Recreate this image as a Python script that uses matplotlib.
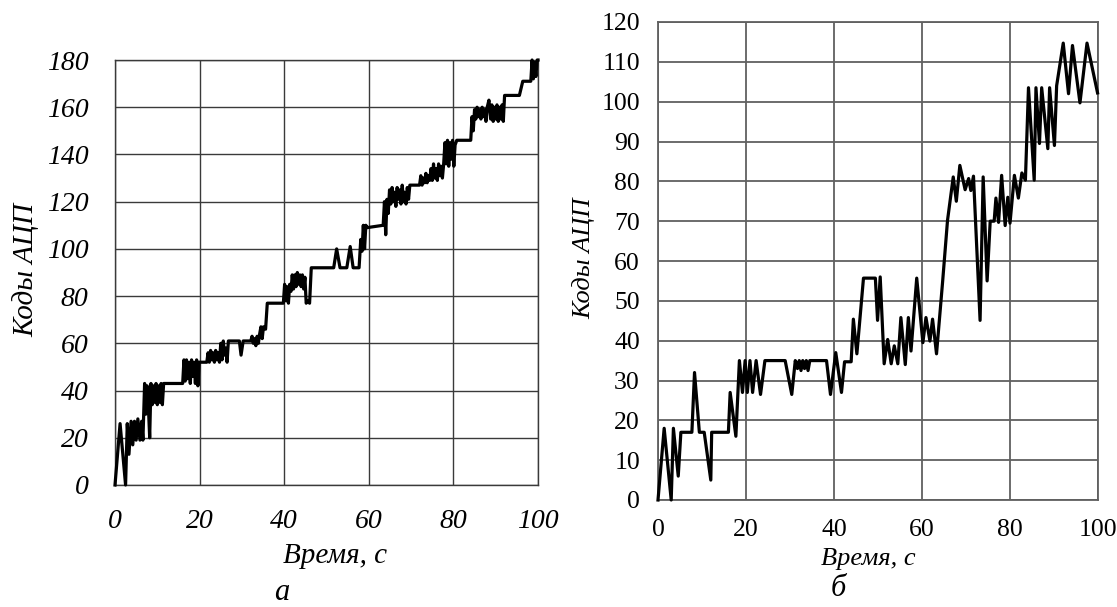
import matplotlib
matplotlib.use('Agg')
import matplotlib.pyplot as plt

plt.rcParams['font.family'] = ['Liberation Serif', 'DejaVu Serif']

# ---- данные: график а (медленный рост) ----
t_a = [0.0, 1.2, 2.5, 2.9, 3.3, 3.8, 4.2, 4.6, 5.0, 5.4, 5.9, 6.3, 6.6,
       7.0, 7.3, 7.6, 7.9, 8.2, 8.5, 8.8, 9.1, 9.4, 9.7, 10.0, 10.3, 10.6, 10.9, 11.2, 11.5,
       16.0, 16.3, 16.6, 16.9, 17.2, 17.5, 17.8, 18.1, 18.4, 18.7, 19.0, 19.3, 19.6, 19.9,
       21.7, 22.0, 22.3, 22.6, 22.9, 23.2, 23.5, 23.8, 24.1, 24.4, 24.7, 25.0, 25.3, 25.6,
       25.9, 26.2, 26.5, 26.8, 27.1,
       29.4, 29.8, 30.3, 32.1,
       32.4, 32.7, 33.0, 33.3, 33.6, 33.9, 34.2, 34.5, 34.8, 35.1, 35.6, 36.0,
       39.8, 40.1, 40.4, 40.7, 41.0, 41.3, 41.6, 41.9, 42.2, 42.5, 42.8, 43.1, 43.4, 43.7,
       44.0, 44.3, 44.6, 44.9, 45.2, 45.5, 46.0, 46.4,
       51.7, 52.4, 53.2, 54.8, 55.6, 56.3, 57.7, 58.1, 58.4, 58.7, 59.0, 59.3, 59.6,
       63.4, 63.7, 64.0, 64.3, 64.6, 64.9, 65.2, 65.5, 65.8, 66.1, 66.4, 66.7, 67.0, 67.3,
       67.6, 67.9, 68.2, 68.5, 68.8, 69.1, 69.4, 69.7,
       72.0, 72.3, 72.6, 72.9, 73.2, 73.5, 73.8, 74.1, 74.4, 74.7, 75.0, 75.3, 75.6, 75.9,
       76.2, 76.5, 76.8, 77.1, 77.4, 77.7,
       78.0, 78.3, 78.6, 78.9, 79.2, 79.5, 79.8, 80.1, 80.4, 80.8,
       84.1, 84.4, 84.7, 85.0, 85.3, 85.6, 85.9, 86.2, 86.5, 86.8, 87.1, 87.4, 87.7, 88.0,
       88.4, 88.8, 89.1, 89.4, 89.7, 90.0, 90.3, 90.6, 90.9, 91.2, 91.5, 91.8, 92.1,
       95.6, 96.4, 98.3, 98.6, 98.9, 99.2, 99.5, 99.8, 100.0]
y_a = [0, 26, 0, 26, 13, 27, 17, 27, 19, 28, 19, 27, 19,
       43, 30, 42, 33, 20, 43, 34, 42, 35, 43, 34, 42, 35, 43, 34, 43,
       43, 53, 44, 53, 45, 52, 43, 53, 46, 52, 43, 53, 42, 52,
       52, 56, 52, 57, 53, 56, 52, 57, 53, 56, 52, 60, 53, 61,
       55, 58, 52, 61, 61,
       61, 55, 61, 61,
       63, 60, 62, 59, 63, 60, 64, 67, 62, 67, 66, 77,
       77, 85, 78, 84, 77, 85, 82, 89, 83, 89, 84, 90, 85, 89,
       84, 89, 83, 88, 77, 78, 77, 92,
       92, 100, 92, 92, 101, 92, 92, 104, 99, 110, 100, 110, 109,
       110, 120, 106, 121, 115, 125, 119, 126, 120, 124, 118, 126, 121, 125,
       119, 127, 120, 124, 119, 126, 121, 127,
       127, 131, 127, 130, 128, 132, 128, 131, 129, 134, 129, 136, 130, 134,
       129, 136, 131, 135, 130, 136,
       145, 136, 146, 135, 145, 138, 146, 135, 144, 146,
       146, 156, 150, 159, 155, 160, 156, 159, 155, 160, 156, 159, 154, 160,
       163, 155, 161, 154, 160, 155, 161, 154, 160, 155, 161, 154, 165,
       165, 171, 171, 180, 172, 179, 173, 180, 180]

# ---- данные: график б ----
t_b = [0, 1.4, 3.0, 3.5, 4.6, 5.2, 7.7, 8.3, 9.4, 10.5, 12.0, 12.2, 16.0, 16.4, 17.7,
       18.5, 19.2, 19.8, 20.3, 20.9, 21.5, 22.3, 23.3, 24.3, 28.9, 30.4, 31.2, 31.7,
       32.1, 32.5, 32.9, 33.3, 33.7, 34.1, 34.5, 35.2, 38.3, 39.2, 40.4, 41.7, 42.4,
       43.9, 44.4, 45.2, 46.7, 49.4, 49.9, 50.5, 51.4, 52.2, 53.0, 53.7, 54.5, 55.2,
       56.2, 56.9, 57.5, 58.8, 60.2, 60.9, 61.8, 62.4, 63.3, 64.7, 65.8, 67.1, 67.8,
       68.6, 69.8, 70.6, 71.1, 71.7, 73.2, 73.9, 74.8, 75.5, 76.4, 76.8, 77.4, 78.1,
       78.9, 79.5, 80.0, 81.0, 81.9, 82.7, 83.5, 84.2, 85.5, 85.9, 86.7, 87.2, 88.6,
       89.0, 90.1, 90.6, 92.1, 93.3, 94.2, 95.9, 97.5, 99.9]
y_b = [0, 18, 0, 18, 6, 17, 17, 32, 17, 17, 5, 17, 17, 27, 16,
       35, 27, 35, 27, 35, 27, 35, 26.5, 35, 35, 26.5, 35, 33,
       35, 32.5, 35, 33, 35, 32.5, 35, 35, 35, 26.5, 37, 27, 34.7,
       34.7, 45.4, 36.7, 55.7, 55.7, 45.1, 56, 34.2, 40.3, 34.2, 38.7, 34.2, 45.8,
       34, 45.8, 37.4, 55.7, 39.5, 45.8, 39.9, 45.4, 36.7, 55, 70.2, 81.1, 75,
       84, 77.9, 80.7, 77.7, 81.3, 45.1, 81.1, 55, 70, 70, 75.8, 69.7, 81.5,
       68.9, 76, 69.5, 81.5, 75.8, 82.1, 80.3, 103.5, 80.3, 103.5, 89.5, 103.5, 88.2,
       103.5, 89, 104, 114.7, 102, 114.1, 99.7, 114.7, 102.2]

xticks = [0, 20, 40, 60, 80, 100]
yticks_a = list(range(0, 181, 20))
yticks_b = list(range(0, 121, 10))

W, H = 1117, 607
fig = plt.figure(figsize=(W / 100, H / 100), dpi=100)
ax1 = fig.add_axes([115 / W, 1 - 485 / H, 423 / W, 425 / H])
ax2 = fig.add_axes([658 / W, 1 - 500 / H, 440 / W, 478 / H])


def px_text(x, y, s, **kw):
    # текст по координатам в пикселях от левого верхнего угла
    fig.text(x / W, 1 - y / H, s, ha='center', va='center', style='italic', **kw)


# === график а ===
ax1.plot(t_a, y_a, color='black', linewidth=2.3, clip_on=False, zorder=3)
ax1.set_xlim(0, 100)
ax1.set_ylim(0, 180)
ax1.set_xticks(xticks)
ax1.set_yticks(yticks_a)
ax1.grid(True, color='#3a3a3a', linewidth=1.0)
ax1.tick_params(axis='y', length=0, pad=19, labelsize=20)
ax1.tick_params(axis='x', length=0, pad=17, labelsize=20)
for lab in ax1.get_xticklabels() + ax1.get_yticklabels():
    lab.set_fontstyle('italic')
for s in ax1.spines.values():
    s.set_color('#3a3a3a')
    s.set_linewidth(1.0)

px_text(335, 556, 'Время, с', fontsize=21)
px_text(26, 270, 'Коды АЦП', fontsize=21, rotation=90)
px_text(282, 592, 'а', fontsize=22)

# === график б ===
ax2.plot(t_b, y_b, color='black', linewidth=2.3, clip_on=False, zorder=3)
ax2.set_xlim(0, 100)
ax2.set_ylim(0, 120)
ax2.set_xticks(xticks)
ax2.set_yticks(yticks_b)
ax2.grid(True, color='#606060', linewidth=1.3)
ax2.tick_params(axis='y', length=0, pad=13, labelsize=18.5)
ax2.tick_params(axis='x', length=0, pad=14, labelsize=18.5)
for s in ax2.spines.values():
    s.set_color('#606060')
    s.set_linewidth(1.3)

px_text(868, 559, 'Время, с', fontsize=19)
px_text(584, 258, 'Коды АЦП', fontsize=19, rotation=90)
px_text(838, 588, 'б', fontsize=22)

fig.savefig('out.png', dpi=100)
plt.close(fig)
